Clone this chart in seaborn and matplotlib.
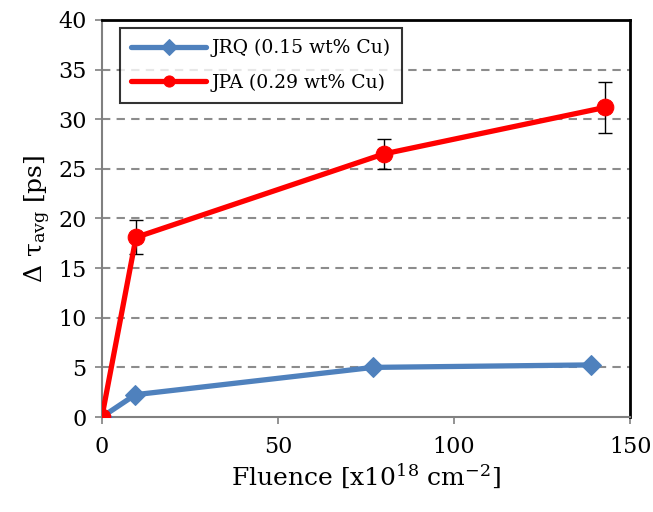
import matplotlib
matplotlib.use("Agg")
import matplotlib.pyplot as plt
import seaborn as sns
import pandas as pd

# Fluence (x10^18 cm^-2) and change in average positron lifetime (ps)
jrq_fluence = [0, 9.5, 77, 139]
jrq_dtau = [0, 2.25, 5.0, 5.25]

jpa_fluence = [0, 9.7, 80, 143]
jpa_dtau = [0, 18.1, 26.5, 31.2]
jpa_err = [0, 1.7, 1.5, 2.6]

jrq_label = "JRQ (0.15 wt% Cu)"
jpa_label = "JPA (0.29 wt% Cu)"

x_ticks = [0, 50, 100, 150]
y_ticks = [0, 5, 10, 15, 20, 25, 30, 35, 40]

sns.set_theme(style="white")
plt.rcParams["font.family"] = ["DejaVu Serif"]
plt.rcParams["mathtext.fontset"] = "dejavuserif"
plt.rcParams["text.color"] = "black"
plt.rcParams["axes.labelcolor"] = "black"
plt.rcParams["xtick.labelcolor"] = "black"
plt.rcParams["ytick.labelcolor"] = "black"

jrq = pd.DataFrame({"fluence": jrq_fluence, "dtau": jrq_dtau})
jpa = pd.DataFrame({"fluence": jpa_fluence, "dtau": jpa_dtau, "err": jpa_err})

fig = plt.figure(figsize=(6.53, 5.12), dpi=100)
ax = fig.add_axes([0.156, 0.1855, 0.809, 0.7755])

# horizontal dashed grid
for y in y_ticks[1:-1]:
    ax.axhline(y, color="#8c8c8c", linestyle=(0, (4, 3)), linewidth=1.5, zorder=0)

sns.lineplot(data=jrq, x="fluence", y="dtau", ax=ax, sort=False,
             color="#4F81BD", linewidth=3.8, marker="D", markersize=10,
             markeredgecolor="#4F81BD", label=jrq_label, zorder=3)
ax.errorbar(jpa["fluence"], jpa["dtau"], yerr=jpa["err"], fmt="none",
            ecolor="black", elinewidth=1.0, capsize=5, capthick=1.0, zorder=2)
sns.lineplot(data=jpa, x="fluence", y="dtau", ax=ax, sort=False,
             color="#FF0000", linewidth=3.8, marker="o", markersize=12,
             markeredgecolor="#FF0000", label=jpa_label, zorder=4)

ax.set_xlim(0, 150)
ax.set_ylim(0, 40)
ax.set_xticks(x_ticks)
ax.set_yticks(y_ticks)
ax.tick_params(axis="both", labelsize=16, colors="#808080", labelcolor="black",
               direction="out", length=5, width=1.2, bottom=True, left=True)
ax.tick_params(axis="y", pad=6)
ax.tick_params(axis="x", pad=9)

for side in ["left", "bottom"]:
    ax.spines[side].set_color("#808080")
    ax.spines[side].set_linewidth(1.5)
for side in ["top", "right"]:
    ax.spines[side].set_color("black")
    ax.spines[side].set_linewidth(2)

ax.set_xlabel("Fluence [x10$^{18}$ cm$^{-2}$]", fontsize=18, labelpad=2)
ax.set_ylabel("Δ τ$_{\\mathrm{avg}}$ [ps]", fontsize=18, labelpad=4)

leg = ax.legend(loc="upper left", bbox_to_anchor=(0.034, 0.98), fontsize=13.5,
                frameon=True, fancybox=False, borderpad=0.6, handlelength=4.0,
                labelspacing=0.85, handletextpad=0.3, borderaxespad=0)
leg.get_frame().set_edgecolor("black")
leg.get_frame().set_linewidth(1.5)
for line in leg.get_lines():
    line.set_linewidth(3.8)
    line.set_markersize(8)

fig.savefig("out.png", dpi=100)
